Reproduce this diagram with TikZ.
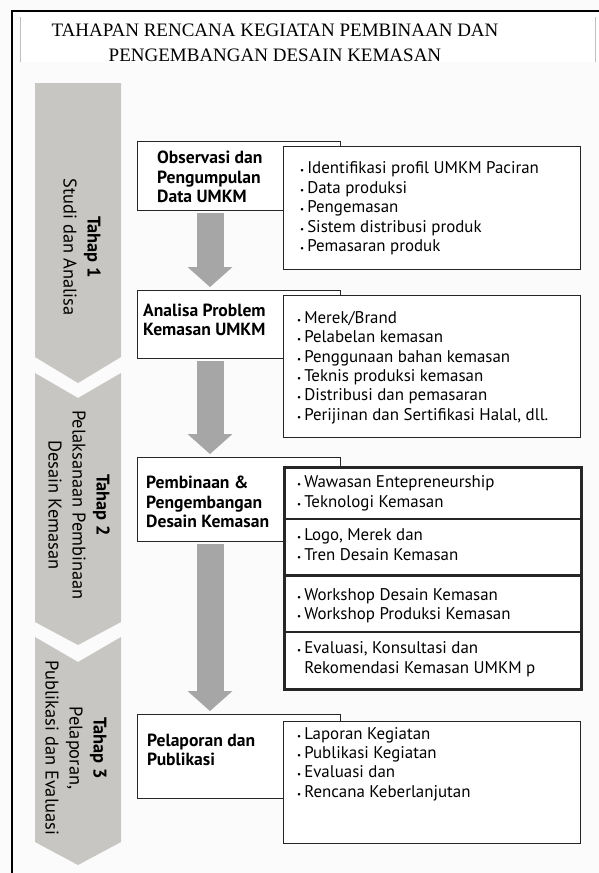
\documentclass[tikz,border=0pt]{standalone}
\usepackage{fontspec}
\setmainfont{PT Sans}
\newfontfamily\titlefont{Liberation Serif}
\usepackage{xcolor}
\usetikzlibrary{arrows.meta}
\definecolor{chevgray}{RGB}{199,198,194}
\definecolor{arrgray}{RGB}{166,166,166}
\definecolor{bodygray}{RGB}{251,251,251}
\newcommand{\bul}{{\fontsize{9}{9}\selectfont\textbullet}\hspace{3pt}}
\tikzset{
  stagebox/.style={draw=black!85, fill=white, line width=1pt, anchor=north west, inner sep=0pt, minimum width=203pt},
  listbox/.style={draw=black!85, fill=white, line width=1pt, anchor=north west, inner sep=0pt, minimum width=297pt},
  stagetext/.style={anchor=west, align=left, inner sep=0pt, font=\fontsize{17.6}{19.5}\selectfont\bfseries},
  listtext/.style={anchor=west, align=left, inner sep=0pt, font=\fontsize{16.9}{19.4}\selectfont},
  tahaptext/.style={rotate=-90, align=center, inner sep=0pt, font=\fontsize{18.4}{24}\selectfont},
  garrow/.style={arrgray, line width=27pt, -{Triangle[width=45pt,length=20pt,line width=0pt]}, shorten <=2pt, shorten >=3pt}
}
\begin{document}
\begin{tikzpicture}[x=1pt,y=1pt,yscale=-1]
\useasboundingbox (0,0) rectangle (599,873);

%Background and frame
\fill[bodygray] (0,0) rectangle (599,873);
\fill[white] (20,13) rectangle (599,62);
\draw[black!25, line width=1pt] (20,17) -- (20,62);
\draw[black!25, line width=1pt] (595,17) -- (595,62);
\draw[line width=1.5pt] (12,873) -- (12,11) -- (599,11);

% Text Node
\node[align=center, inner sep=0pt, font=\titlefont\fontsize{19}{25}\selectfont] (title) at (275,43) {TAHAPAN RENCANA KEGIATAN PEMBINAAN DAN\\PENGEMBANGAN DESAIN KEMASAN};

%Shape: Chevrons
\fill[chevgray] (35,83) -- (121,83) -- (121,357) -- (78,383) -- (35,357) -- cycle;
\fill[chevgray] (35,373) -- (78,398) -- (121,373) -- (121,622) -- (78,645) -- (35,622) -- cycle;
\fill[chevgray] (35,637) -- (78,662) -- (121,637) -- (121,842) -- (78,865) -- (35,842) -- cycle;

% Text Node
\node[tahaptext] (tahap1) at (82,247) {\textbf{Tahap 1}\\Studi dan Analisa};
\node[tahaptext] (tahap2) at (79,505) {\textbf{Tahap 2}\\Pelaksanaan Pembinaan\\Desain Kemasan};
\node[tahaptext] (tahap3) at (76,748) {\textbf{Tahap 3}\\Pelaporan,\\Publikasi dan Evaluasi};

%Shape: Rectangle (stages)
\node[stagebox, minimum height=69pt] (obs) at (137,141) {};
\node[stagebox, minimum height=68pt] (ana) at (137,290) {};
\node[stagebox, minimum height=84pt] (pem) at (137,457) {};
\node[stagebox, minimum height=84pt] (pel) at (137,714) {};

%Shape: Rectangle (lists)
\node[listbox, minimum height=123pt] (obsitems) at (283,146) {};
\node[listbox, minimum height=142pt] (anaitems) at (283,295) {};
\node[listbox, minimum height=222pt, line width=3pt] (pemitems) at (283,466) {};
\node[listbox, minimum height=122pt] (pelitems) at (283,721) {};
\draw[black!85, line width=2pt] (283,519) -- (580,519);
\draw[black!85, line width=3pt] (283,575) -- (580,575);
\draw[black!85, line width=1.5pt] (283,632) -- (580,632);

% Text Node
\node[stagetext] (obstxt) at (157,177) {Observasi dan\\Pengumpulan\\Data UMKM};
\node[stagetext] (anatxt) at (143,320) {Analisa Problem\\Kemasan UMKM};
\node[stagetext] (pemtxt) at (146,502) {Pembinaan \&\\Pengembangan\\Desain Kemasan};
\node[stagetext] (peltxt) at (147,750) {Pelaporan dan\\Publikasi};

% Text Node
\node[listtext] (obslist) at (300,208.5) {\bul Identifikasi profil UMKM Paciran\\\bul Data produksi\\\bul Pengemasan\\\bul Sistem distribusi produk\\\bul Pemasaran produk};
\node[listtext] (analist) at (297,367.5) {\bul Merek/Brand\\\bul Pelabelan kemasan\\\bul Penggunaan bahan kemasan\\\bul Teknis produksi kemasan\\\bul Distribusi dan pemasaran\\\bul Perijinan dan Sertifikasi Halal, dll.};
\node[listtext] (pemlistA) at (297,493.5) {\bul Wawasan Entepreneurship\\\bul Teknologi Kemasan};
\node[listtext] (pemlistB) at (297,544.5) {\bul Logo, Merek dan\\\bul Tren Desain Kemasan};
\node[listtext] (pemlistC) at (297,605.5) {\bul Workshop Desain Kemasan\\\bul Workshop Produksi Kemasan};
\node[listtext] (pemlistD) at (297,659) {\bul Evaluasi, Konsultasi dan\\\hphantom{\bul}Rekomendasi Kemasan UMKM p};
\node[listtext] (pellist) at (297,764) {\bul Laporan Kegiatan\\\bul Publikasi Kegiatan\\\bul Evaluasi dan\\\bul Rencana Keberlanjutan};

%Block arrows
\coordinate (ax) at (210,0);
\draw[garrow] (obs.south -| ax) -- (ana.north -| ax);
\draw[garrow] (ana.south -| ax) -- (pem.north -| ax);
\draw[garrow] (pem.south -| ax) -- (pel.north -| ax);
\end{tikzpicture}
\end{document}
